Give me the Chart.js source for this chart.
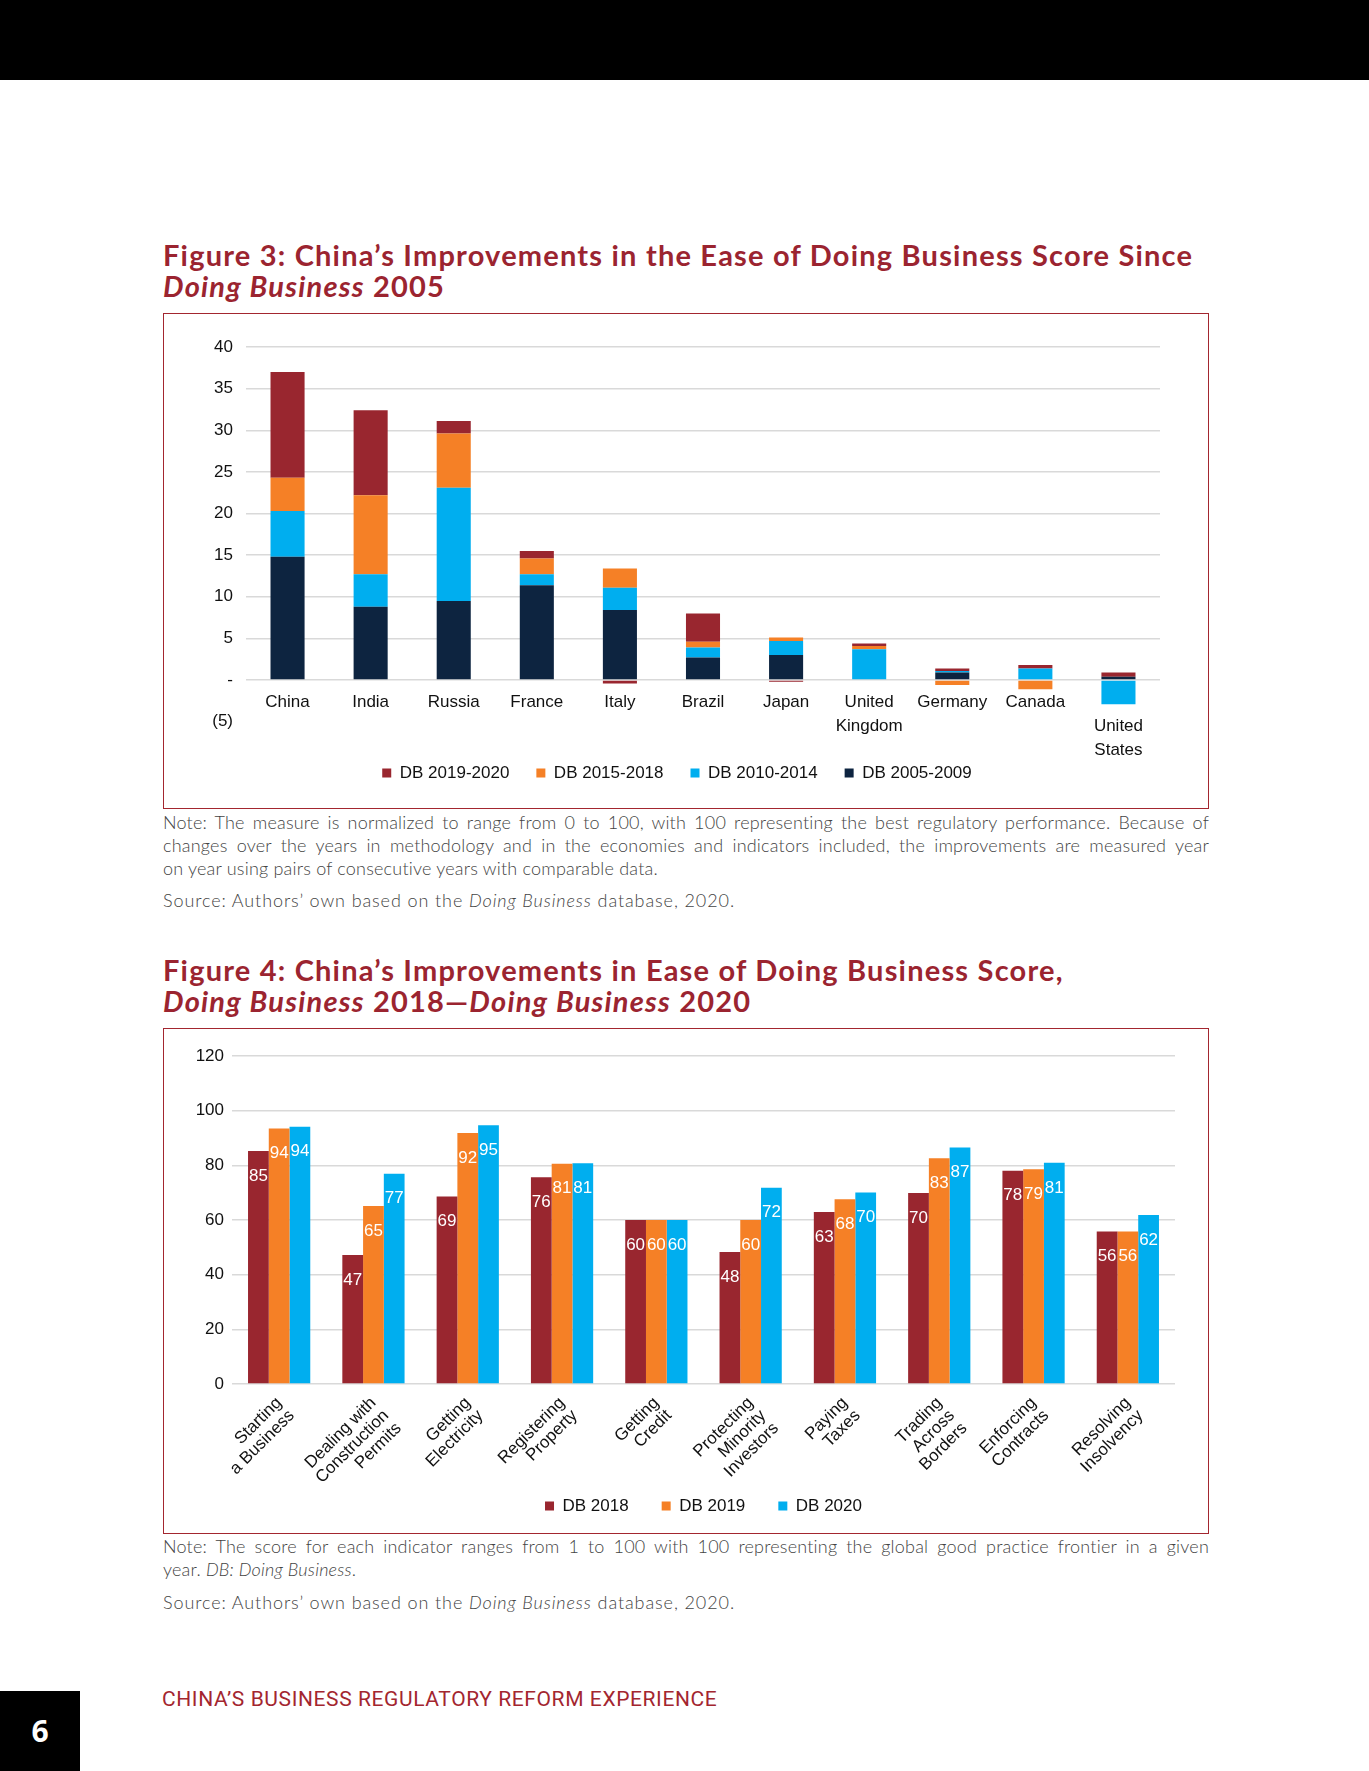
<!DOCTYPE html>
<html>
<head>
<meta charset="utf-8">
<title>China's Improvements in the Ease of Doing Business</title>
<script src="https://cdn.jsdelivr.net/npm/chart.js@4.4.1/dist/chart.umd.min.js"></script>
<style>
  body { margin: 0; background: #fff; }
  .page { position: relative; width: 1369px; height: 1771px; overflow: hidden; background: #fff; }
  .topbar { position: absolute; left: 0; top: 0; width: 1369px; height: 80px; background: #000; }
  .fig-title { position: absolute; left: 163px; width: 1100px; font-family: Lato, sans-serif; font-weight: 700;
    font-size: 29px; line-height: 31px; letter-spacing: 1.2px; color: #9b2430; }
  .frame { position: absolute; left: 163px; width: 1044px; border: 1.5px solid #a3262f; }
  .frame canvas { position: absolute; left: 0; top: 0; }
  .note { position: absolute; left: 163px; width: 1046px; font-family: Lato, sans-serif; font-weight: 300;
    font-size: 18px; line-height: 23px; letter-spacing: 0.2px; color: #444; white-space: nowrap; }
  .note .full { text-align: justify; text-align-last: justify; }
  .note.source { letter-spacing: 0.9px; }
  .pagenum { position: absolute; left: 0; top: 1691px; width: 80px; height: 80px; background: #000; color: #fff;
    font-family: "Open Sans", sans-serif; font-weight: 700; font-size: 30px; line-height: 80px; text-align: center; }
  .footer { position: absolute; left: 162px; top: 1686px; font-family: Roboto, sans-serif; font-size: 21px;
    line-height: 26px; letter-spacing: 0.6px; color: #a3262f; }
</style>
</head>
<body>
<div class="page">
  <div class="topbar"></div>

  <div class="fig-title" style="top:239px">Figure 3: China’s Improvements in the Ease of Doing Business Score Since<br><i>Doing Business</i> 2005</div>
  <div class="frame" style="top:313px; height:494px">
    <canvas id="chartImprovements" width="1044" height="494"></canvas>
  </div>
  <div class="note" style="top:811px">
    <div class="full">Note: The measure is normalized to range from 0 to 100, with 100 representing the best regulatory performance. Because of</div>
    <div class="full">changes over the years in methodology and in the economies and indicators included, the improvements are measured year</div>
    <div>on year using pairs of consecutive years with comparable data.</div>
  </div>
  <div class="note source" style="top:889px">Source: Authors’ own based on the <i>Doing Business</i> database, 2020.</div>

  <div class="fig-title" style="top:954px">Figure 4: China’s Improvements in Ease of Doing Business Score,<br><i>Doing Business</i> 2018—<i>Doing Business</i> 2020</div>
  <div class="frame" style="top:1028px; height:504px">
    <canvas id="chartScores" width="1044" height="504"></canvas>
  </div>
  <div class="note" style="top:1535px">
    <div class="full">Note: The score for each indicator ranges from 1 to 100 with 100 representing the global good practice frontier in a given</div>
    <div>year. <i>DB: Doing Business</i>.</div>
  </div>
  <div class="note source" style="top:1591px">Source: Authors’ own based on the <i>Doing Business</i> database, 2020.</div>

  <div class="pagenum">6</div>
  <div class="footer">CHINA’S BUSINESS REGULATORY REFORM EXPERIENCE</div>
</div>

<script>
// Figure 3 - improvement in score by period
const economies = ['China', 'India', 'Russia', 'France', 'Italy', 'Brazil', 'Japan',
  ['United', 'Kingdom'], 'Germany', 'Canada', ['', 'United', 'States']];
const db2005to2009 = [14.8, 8.8, 9.5, 11.4, 8.4, 2.7, 3.0, 0, 0.9, 0.1, 0.4];
const db2010to2014 = [5.5, 3.9, 13.6, 1.3, 2.7, 1.2, 1.7, 3.7, 0.2, 1.3, -2.9];
const db2015to2018 = [4.0, 9.5, 6.5, 1.9, 2.3, 0.7, 0.4, 0.4, -0.6, -1.1, 0];
const db2019to2020 = [12.7, 10.2, 1.5, 0.9, -0.4, 3.4, -0.2, 0.3, 0.3, 0.4, 0.5];

// Figure 4 - indicator scores
const indicators = [['Starting', 'a Business'], ['Dealing with', 'Construction', 'Permits'],
  ['Getting', 'Electricity'], ['Registering', 'Property'], ['Getting', 'Credit'],
  ['Protecting', 'Minority', 'Investors'], ['Paying', 'Taxes'], ['Trading', 'Across', 'Borders'],
  ['Enforcing', 'Contracts'], ['Resolving', 'Insolvency']];
const db2018 = [85.2, 47.2, 68.6, 75.6, 60, 48.3, 62.9, 69.9, 78.0, 55.8];
const db2019 = [93.5, 65.1, 91.8, 80.6, 60, 60.0, 67.6, 82.6, 78.6, 55.8];
const db2020 = [94.1, 76.9, 94.7, 80.8, 60, 71.8, 70.1, 86.5, 80.9, 61.8];

const RED = '#99262f';
const ORANGE = '#f58026';
const CYAN = '#00aeef';
const NAVY = '#0d2440';
const GRID = '#d9d9d9';

Chart.defaults.font.family = '"Liberation Sans", Arial, sans-serif';
Chart.defaults.font.size = 17;
Chart.defaults.color = '#111';

// moves the legend up or down without touching the plot area
const legendShift = {
  id: 'legendShift',
  afterLayout(chart, args, opts) {
    chart.legend.top += opts.dy || 0;
    chart.legend.bottom += opts.dy || 0;
  }
};

// white value labels just inside the top of each bar
const valueLabels = {
  id: 'valueLabels',
  afterDatasetsDraw(chart) {
    const c = chart.ctx;
    c.save();
    c.fillStyle = '#fff';
    c.font = '17px ' + Chart.defaults.font.family;
    c.textAlign = 'center';
    c.textBaseline = 'middle';
    chart.data.datasets.forEach((ds, i) => {
      chart.getDatasetMeta(i).data.forEach((bar, j) => {
        c.fillText(Math.round(ds.data[j]), bar.x, bar.y + 25);
      });
    });
    c.restore();
  }
};

document.addEventListener('DOMContentLoaded', function () {
  const ctx3 = document.getElementById('chartImprovements').getContext('2d');
  new Chart(ctx3, {
    type: 'bar',
    data: {
      labels: economies,
      datasets: [
        { label: 'DB 2005-2009', data: db2005to2009, backgroundColor: NAVY },
        { label: 'DB 2010-2014', data: db2010to2014, backgroundColor: CYAN },
        { label: 'DB 2015-2018', data: db2015to2018, backgroundColor: ORANGE },
        { label: 'DB 2019-2020', data: db2019to2020, backgroundColor: RED }
      ]
    },
    options: {
      responsive: false,
      animation: false,
      barPercentage: 0.41,
      categoryPercentage: 1,
      layout: { padding: { top: 33, left: 30, right: 48, bottom: 16.5 } },
      scales: {
        x: {
          stacked: true,
          position: { y: 0 },
          grid: { display: false },
          border: { display: false },
          ticks: { padding: 2, autoSkip: false, maxRotation: 0, color: '#111', font: { lineHeight: '24px' } }
        },
        y: {
          stacked: true,
          min: -5,
          max: 40,
          afterFit: scale => { scale.width = 52; },
          grid: {
            drawTicks: false,
            lineWidth: 1.5,
            color: c => (c.tick && c.tick.value < 0 ? 'rgba(0,0,0,0)' : GRID)
          },
          border: { display: false },
          ticks: {
            stepSize: 5,
            padding: 13,
            color: '#111',
            callback: v => (v === 0 ? '-' : v < 0 ? '(' + (-v) + ')' : v)
          }
        }
      },
      plugins: {
        legend: {
          position: 'bottom',
          reverse: true,
          title: { display: true, text: ' ', font: { size: 1 }, padding: { top: 14.6, bottom: 0 } },
          labels: { usePointStyle: true, pointStyle: 'rect', boxWidth: 9, boxHeight: 9, padding: 27, color: '#111' }
        },
        tooltip: { enabled: false }
      }
    }
  });

  const ctx4 = document.getElementById('chartScores').getContext('2d');
  new Chart(ctx4, {
    type: 'bar',
    data: {
      labels: indicators,
      datasets: [
        { label: 'DB 2018', data: db2018, backgroundColor: RED },
        { label: 'DB 2019', data: db2019, backgroundColor: ORANGE },
        { label: 'DB 2020', data: db2020, backgroundColor: CYAN }
      ]
    },
    plugins: [valueLabels, legendShift],
    options: {
      responsive: false,
      animation: false,
      barPercentage: 1,
      categoryPercentage: 0.66,
      layout: { padding: { top: 27, left: 0, right: 33, bottom: -11 } },
      scales: {
        x: {
          afterFit: scale => { scale.height = 100; },
          grid: { display: false },
          border: { display: false },
          ticks: {
            autoSkip: false, minRotation: 45, maxRotation: 45, padding: 2, color: '#111',
            font: { size: 17, lineHeight: 1.05 }
          }
        },
        y: {
          min: 0,
          max: 120,
          afterFit: scale => { scale.width = 68; },
          grid: { drawTicks: false, lineWidth: 1.5, color: GRID },
          border: { display: false },
          ticks: { stepSize: 20, padding: 8, color: '#111' }
        }
      },
      plugins: {
        legend: {
          position: 'bottom',
          fullSize: false,
          labels: { usePointStyle: true, pointStyle: 'rect', boxWidth: 9, boxHeight: 9, padding: 33, color: '#111' }
        },
        legendShift: { dy: -19.5 },
        tooltip: { enabled: false }
      }
    }
  });
});
</script>
</body>
</html>
